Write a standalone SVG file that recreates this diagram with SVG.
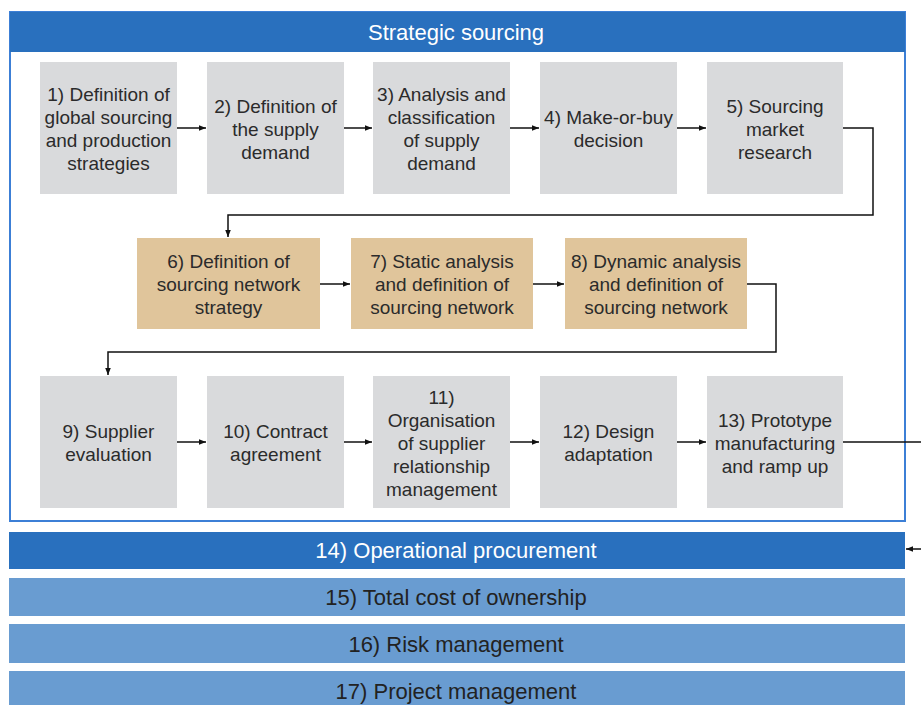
<svg xmlns="http://www.w3.org/2000/svg" width="921" height="705" viewBox="0 0 921 705">
<defs>
<style>
.box{fill:#d9dadc}
.tan{fill:#e0c59b}
.t{font-family:"Liberation Sans",Arial,sans-serif;font-size:19px;fill:#2b2b2b;text-anchor:middle}
.h{font-family:"Liberation Sans",Arial,sans-serif;font-size:22px;text-anchor:middle}
.w{fill:#ffffff}
.d{fill:#222222}
.c{fill:none;stroke:#111111;stroke-width:1.5}
</style>
<marker id="ah" viewBox="0 0 10 10" refX="10" refY="5" markerWidth="9" markerHeight="7" markerUnits="userSpaceOnUse" orient="auto">
<path d="M0,1 L10,5 L0,9 z" fill="#111111"/>
</marker>
</defs>
<rect width="921" height="705" fill="#ffffff"/>
<g id="strategic-sourcing">
<rect x="10" y="12" width="895" height="509" fill="#ffffff" stroke="#3c7fd6" stroke-width="2"/>
<rect x="10" y="12" width="895" height="40" fill="#2970be"/>
<text class="h w" x="456" y="40">Strategic sourcing</text>
</g>
<g id="n1"><rect class="box" x="40" y="62" width="137" height="132"/>
<text class="t" x="108.5" y="101">1) Definition of</text><text class="t" x="108.5" y="124">global sourcing</text><text class="t" x="108.5" y="147">and production</text><text class="t" x="108.5" y="170">strategies</text></g>
<g id="n2"><rect class="box" x="207" y="62" width="137" height="132"/>
<text class="t" x="275.5" y="112.5">2) Definition of</text><text class="t" x="275.5" y="135.5">the supply</text><text class="t" x="275.5" y="158.5">demand</text></g>
<g id="n3"><rect class="box" x="373" y="62" width="137" height="132"/>
<text class="t" x="441.5" y="101">3) Analysis and</text><text class="t" x="441.5" y="124">classification</text><text class="t" x="441.5" y="147">of supply</text><text class="t" x="441.5" y="170">demand</text></g>
<g id="n4"><rect class="box" x="540" y="62" width="137" height="132"/>
<text class="t" x="608.5" y="124">4) Make-or-buy</text><text class="t" x="608.5" y="147">decision</text></g>
<g id="n5"><rect class="box" x="707" y="62" width="136" height="132"/>
<text class="t" x="775" y="112.5">5) Sourcing</text><text class="t" x="775" y="135.5">market</text><text class="t" x="775" y="158.5">research</text></g>
<g id="n6"><rect class="tan" x="137" y="238" width="183" height="91"/>
<text class="t" x="228.5" y="268">6) Definition of</text><text class="t" x="228.5" y="291">sourcing network</text><text class="t" x="228.5" y="314">strategy</text></g>
<g id="n7"><rect class="tan" x="351" y="238" width="182" height="91"/>
<text class="t" x="442" y="268">7) Static analysis</text><text class="t" x="442" y="291">and definition of</text><text class="t" x="442" y="314">sourcing network</text></g>
<g id="n8"><rect class="tan" x="565" y="238" width="182" height="91"/>
<text class="t" x="656" y="268">8) Dynamic analysis</text><text class="t" x="656" y="291">and definition of</text><text class="t" x="656" y="314">sourcing network</text></g>
<g id="n9"><rect class="box" x="40" y="376" width="137" height="132"/>
<text class="t" x="108.5" y="438">9) Supplier</text><text class="t" x="108.5" y="461">evaluation</text></g>
<g id="n10"><rect class="box" x="207" y="376" width="137" height="132"/>
<text class="t" x="275.5" y="438">10) Contract</text><text class="t" x="275.5" y="461">agreement</text></g>
<g id="n11"><rect class="box" x="373" y="376" width="137" height="132"/>
<text class="t" x="441.5" y="403.5">11)</text><text class="t" x="441.5" y="426.5">Organisation</text><text class="t" x="441.5" y="449.5">of supplier</text><text class="t" x="441.5" y="472.5">relationship</text><text class="t" x="441.5" y="495.5">management</text></g>
<g id="n12"><rect class="box" x="540" y="376" width="137" height="132"/>
<text class="t" x="608.5" y="438">12) Design</text><text class="t" x="608.5" y="461">adaptation</text></g>
<g id="n13"><rect class="box" x="707" y="376" width="136" height="132"/>
<text class="t" x="775" y="426.5">13) Prototype</text><text class="t" x="775" y="449.5">manufacturing</text><text class="t" x="775" y="472.5">and ramp up</text></g>
<g id="n14"><rect x="9" y="532" width="896" height="37" fill="#2970be"/>
<text class="h w" x="456" y="558">14) Operational procurement</text></g>
<g id="n15"><rect x="9" y="578" width="896" height="38" fill="#699cd1"/>
<text class="h d" x="456" y="605">15) Total cost of ownership</text></g>
<g id="n16"><rect x="9" y="624" width="896" height="39" fill="#699cd1"/>
<text class="h d" x="456" y="652">16) Risk management</text></g>
<g id="n17"><rect x="9" y="671" width="896" height="40" fill="#699cd1"/>
<text class="h d" x="456" y="699">17) Project management</text></g>
<g id="connectors">
<path class="c" d="M177,128 H206" marker-end="url(#ah)"/>
<path class="c" d="M344,128 H372" marker-end="url(#ah)"/>
<path class="c" d="M510,128 H539" marker-end="url(#ah)"/>
<path class="c" d="M677,128 H706" marker-end="url(#ah)"/>
<path class="c" d="M843,128 H873 V215 H228 V237" marker-end="url(#ah)"/>
<path class="c" d="M320,284 H350" marker-end="url(#ah)"/>
<path class="c" d="M533,284 H564" marker-end="url(#ah)"/>
<path class="c" d="M747,284 H776 V352 H108 V375" marker-end="url(#ah)"/>
<path class="c" d="M177,442 H206" marker-end="url(#ah)"/>
<path class="c" d="M344,442 H372" marker-end="url(#ah)"/>
<path class="c" d="M510,442 H539" marker-end="url(#ah)"/>
<path class="c" d="M677,442 H706" marker-end="url(#ah)"/>
<path class="c" d="M843,442 H935 V549 H906" marker-end="url(#ah)"/>
</g>
</svg>
